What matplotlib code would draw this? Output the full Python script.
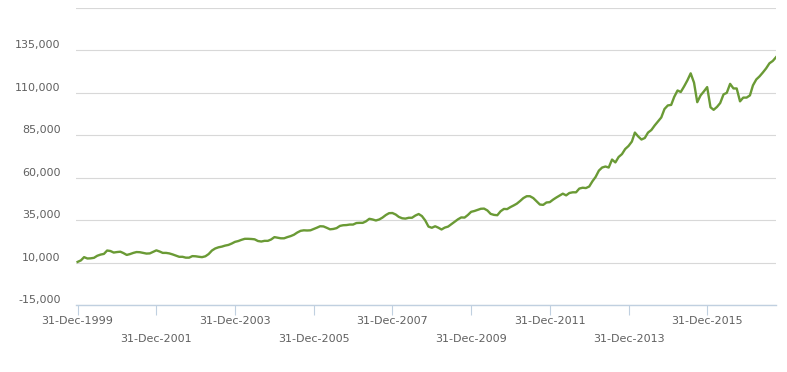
import numpy as np
import pandas as pd
import matplotlib
matplotlib.use("Agg")
import matplotlib.pyplot as plt
from matplotlib.transforms import ScaledTranslation

# month-end values, Dec 1999 .. Sep 2017 (in thousands)
start_date = "1999-12-31"
values_k = [
    10.4, 11.3, 13.2, 12.4, 12.5, 12.8, 14.0, 14.7, 15.1, 17.1, 16.8, 15.9,
    16.2, 16.4, 15.6, 14.5, 15.0, 15.7, 16.2, 16.1, 15.7, 15.3, 15.4, 16.3,
    17.2, 16.5, 15.7, 15.7, 15.4, 14.8, 14.1, 13.4, 13.4, 12.9, 12.9, 13.8,
    13.7, 13.4, 13.2, 13.7, 15.0, 17.1, 18.3, 19.0, 19.4, 20.0, 20.4, 21.2,
    22.2, 22.7, 23.4, 24.0, 24.0, 23.9, 23.7, 22.7, 22.4, 22.8, 22.8, 23.6,
    25.0, 24.6, 24.3, 24.3, 25.0, 25.6, 26.4, 27.7, 28.7, 29.0, 28.9, 29.0,
    29.8, 30.6, 31.4, 31.3, 30.5, 29.6, 29.8, 30.3, 31.6, 32.0, 32.1, 32.4,
    32.4, 33.3, 33.4, 33.4, 34.3, 35.8, 35.4, 34.8, 35.4, 36.5, 38.0, 39.1,
    39.2, 38.3, 36.9, 36.1, 35.9, 36.4, 36.4, 37.7, 38.6, 37.4, 34.8, 31.2,
    30.5, 31.4, 30.6, 29.5, 30.6, 31.2, 32.6, 34.0, 35.5, 36.6, 36.5, 38.0,
    39.9, 40.4, 41.0, 41.7, 41.8, 40.7, 38.7, 38.1, 37.9, 40.2, 41.6, 41.5,
    42.7, 43.7, 44.7, 46.3, 48.0, 49.1, 49.1, 48.0, 46.1, 44.2, 44.0, 45.4,
    45.6, 47.1, 48.3, 49.5, 50.6, 49.6, 51.0, 51.4, 51.4, 53.6, 54.1, 53.9,
    54.8, 58.0, 60.4, 64.2, 66.0, 66.6, 66.0, 70.7, 69.0, 72.2, 73.9, 76.9,
    78.7, 81.3, 86.6, 84.3, 82.5, 83.4, 86.6, 88.1, 90.8, 93.1, 95.5, 100.5,
    102.6, 102.9, 107.6, 111.4, 110.5, 113.8, 117.3, 121.5, 116.0, 104.5, 108.5, 110.8,
    113.4, 101.5, 100.0, 101.7, 104.0, 109.1, 110.0, 115.3, 112.6, 112.6, 105.0, 107.2,
    107.2, 108.5, 114.4, 117.9, 119.7, 122.0, 124.4, 127.4, 128.8, 131.0,
]
values = [v * 1000 for v in values_k]
dates = pd.date_range(start_date, periods=len(values), freq="ME")

tick_dates = pd.to_datetime(["1999-12-31", "2001-12-31", "2003-12-31", "2005-12-31",
                             "2007-12-31", "2009-12-31", "2011-12-31", "2013-12-31",
                             "2015-12-31"])
tick_labels = [d.strftime("%d-%b-%Y") for d in tick_dates]
y_ticks = list(range(-15000, 160001, 25000))

fig = plt.figure(figsize=(7.87, 3.72), dpi=100)
ax = fig.add_axes([76 / 787, 1 - 305 / 372, 700 / 787, 297 / 372])

ax.plot(dates, values, color="#6A9A35", lw=1.7, solid_joinstyle="round")

ax.set_ylim(-15000, 160000)
ax.set_xlim(dates[0] - pd.Timedelta(days=15), dates[-1])
ax.set_yticks(y_ticks)
ax.set_yticklabels([f"{t:,}" if t < 160000 else "" for t in y_ticks])
ax.grid(axis="y", color="#D8D8D8", lw=0.8)
ax.set_axisbelow(True)

for s in ["top", "right", "left"]:
    ax.spines[s].set_visible(False)
ax.spines["bottom"].set_color("#C0D0E0")
ax.spines["bottom"].set_linewidth(1)

ax.set_xticks(tick_dates)
ax.set_xticklabels(tick_labels)
ax.tick_params(axis="x", direction="out", length=7.2, width=0.8, color="#C0D0E0",
               labelsize=8, labelcolor="#606060", pad=1)
ax.tick_params(axis="y", length=0, labelsize=8, labelcolor="#606060", pad=11)
for i, t in enumerate(ax.xaxis.get_major_ticks()):
    if i % 2 == 1:
        t.set_pad(14)

off = ScaledTranslation(0, 0.06, fig.dpi_scale_trans)
for lab in ax.get_yticklabels():
    lab.set_transform(lab.get_transform() + off)

fig.savefig("out.png", dpi=100)
